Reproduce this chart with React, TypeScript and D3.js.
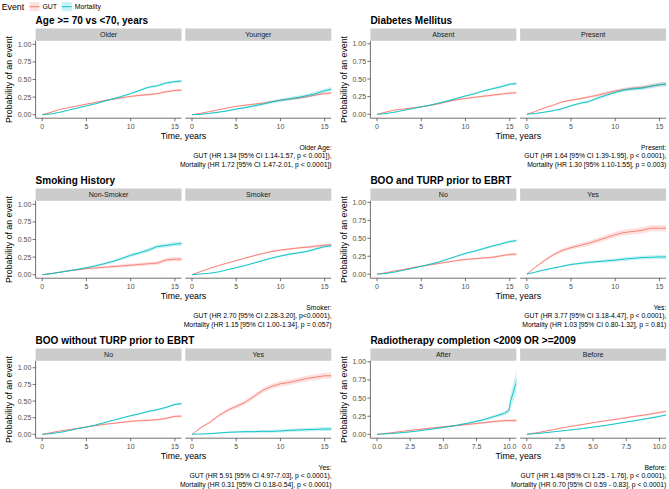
import React from 'react';
import * as d3 from 'd3';

// time grids (years)
const yearsLong = [0, 1, 2, 3, 4, 5, 6, 7, 8, 9, 10, 11, 12, 13, 14, 15, 16];
const yearsRadio = [0, 1, 2, 3, 4, 5, 6, 7, 8, 9, 9.6, 9.95, 10.05, 10.3, 10.6];

// cumulative incidence estimates
const ageOlderGut = [0, 0.035, 0.075, 0.1, 0.125, 0.15, 0.175, 0.2, 0.22, 0.24, 0.26, 0.275, 0.285, 0.3, 0.325, 0.345, 0.35];
const ageOlderMort = [0, 0.01, 0.035, 0.065, 0.095, 0.125, 0.155, 0.19, 0.225, 0.26, 0.3, 0.345, 0.39, 0.41, 0.45, 0.47, 0.48];
const ageYoungerGut = [0, 0.02, 0.045, 0.07, 0.095, 0.12, 0.135, 0.15, 0.165, 0.185, 0.205, 0.22, 0.235, 0.255, 0.28, 0.3, 0.31];
const ageYoungerMort = [0, 0.005, 0.02, 0.035, 0.055, 0.08, 0.1, 0.125, 0.15, 0.18, 0.205, 0.225, 0.245, 0.27, 0.3, 0.34, 0.37];

const diabAbsentGut = [0, 0.03, 0.06, 0.075, 0.09, 0.105, 0.125, 0.15, 0.18, 0.205, 0.225, 0.24, 0.255, 0.27, 0.285, 0.3, 0.305];
const diabAbsentMort = [0, 0.01, 0.03, 0.055, 0.08, 0.105, 0.13, 0.16, 0.19, 0.225, 0.26, 0.29, 0.33, 0.36, 0.39, 0.425, 0.44];
const diabPresentGut = [0, 0.04, 0.09, 0.13, 0.175, 0.2, 0.22, 0.245, 0.27, 0.3, 0.33, 0.35, 0.37, 0.38, 0.4, 0.42, 0.43];
const diabPresentMort = [0, 0.01, 0.03, 0.05, 0.08, 0.12, 0.155, 0.18, 0.23, 0.27, 0.31, 0.345, 0.36, 0.37, 0.395, 0.42, 0.43];

const smokeNonGut = [0, 0.015, 0.035, 0.055, 0.07, 0.085, 0.095, 0.105, 0.115, 0.125, 0.135, 0.145, 0.155, 0.165, 0.21, 0.22, 0.22];
const smokeNonMort = [0, 0.015, 0.035, 0.055, 0.075, 0.1, 0.125, 0.155, 0.19, 0.23, 0.275, 0.31, 0.35, 0.4, 0.415, 0.435, 0.445];
const smokerGut = [0, 0.045, 0.09, 0.13, 0.165, 0.2, 0.235, 0.27, 0.3, 0.33, 0.35, 0.365, 0.38, 0.39, 0.405, 0.42, 0.43];
const smokerMort = [0, 0.01, 0.02, 0.04, 0.07, 0.1, 0.13, 0.165, 0.2, 0.235, 0.265, 0.29, 0.31, 0.33, 0.365, 0.4, 0.41];

const turpNoGut = [0, 0.02, 0.045, 0.065, 0.09, 0.11, 0.13, 0.15, 0.17, 0.19, 0.205, 0.215, 0.225, 0.235, 0.255, 0.275, 0.28];
const turpNoMort = [0, 0.01, 0.03, 0.055, 0.08, 0.11, 0.14, 0.17, 0.21, 0.25, 0.29, 0.32, 0.355, 0.39, 0.42, 0.455, 0.47];
const turpYesGut = [0, 0.1, 0.19, 0.27, 0.33, 0.37, 0.4, 0.43, 0.47, 0.51, 0.55, 0.58, 0.595, 0.61, 0.64, 0.64, 0.64];
const turpYesMort = [0, 0.03, 0.06, 0.085, 0.11, 0.135, 0.15, 0.165, 0.175, 0.185, 0.195, 0.21, 0.22, 0.23, 0.235, 0.24, 0.24];

const booNoGut = [0, 0.025, 0.05, 0.07, 0.09, 0.11, 0.13, 0.15, 0.165, 0.18, 0.195, 0.205, 0.21, 0.22, 0.24, 0.27, 0.275];
const booNoMort = [0, 0.01, 0.03, 0.055, 0.085, 0.11, 0.14, 0.175, 0.21, 0.245, 0.28, 0.31, 0.345, 0.37, 0.405, 0.45, 0.465];
const booYesGut = [0, 0.1, 0.18, 0.28, 0.36, 0.42, 0.48, 0.57, 0.66, 0.72, 0.76, 0.78, 0.81, 0.84, 0.86, 0.88, 0.88];
const booYesMort = [0, 0.005, 0.01, 0.02, 0.03, 0.035, 0.04, 0.04, 0.045, 0.045, 0.05, 0.06, 0.065, 0.07, 0.075, 0.08, 0.08];

const radioAfterGut = [0, 0.02, 0.045, 0.065, 0.085, 0.105, 0.12, 0.14, 0.16, 0.18, 0.19, 0.19, 0.19, 0.19, 0.19];
const radioAfterMort = [0, 0.01, 0.025, 0.045, 0.07, 0.095, 0.125, 0.16, 0.2, 0.255, 0.29, 0.33, 0.45, 0.6, 0.78];
const radioBeforeGut = [0, 0.03, 0.065, 0.1, 0.13, 0.16, 0.19, 0.215, 0.245, 0.27, 0.29, 0.3, 0.305, 0.31, 0.32];
const radioBeforeMort = [0, 0.015, 0.035, 0.055, 0.075, 0.1, 0.125, 0.155, 0.185, 0.215, 0.235, 0.245, 0.25, 0.26, 0.27];

// 95% CI half-widths
const ciNarrow = [0, 0.003, 0.005, 0.006, 0.007, 0.008, 0.009, 0.01, 0.011, 0.012, 0.013, 0.014, 0.015, 0.016, 0.017, 0.018, 0.019];
const ciMid = [0, 0.005, 0.008, 0.01, 0.012, 0.014, 0.016, 0.018, 0.02, 0.022, 0.024, 0.025, 0.026, 0.027, 0.028, 0.03, 0.032];
const ciWide = [0, 0.012, 0.018, 0.022, 0.026, 0.029, 0.032, 0.034, 0.036, 0.038, 0.04, 0.041, 0.042, 0.043, 0.044, 0.045, 0.046];
const ciRadioNarrow = [0, 0.003, 0.005, 0.006, 0.007, 0.008, 0.009, 0.01, 0.011, 0.012, 0.013, 0.013, 0.014, 0.014, 0.015];
const ciRadioAfterGut = [0, 0.004, 0.006, 0.008, 0.009, 0.01, 0.011, 0.013, 0.015, 0.017, 0.019, 0.02, 0.02, 0.02, 0.02];
const ciRadioAfterMort = [0, 0.004, 0.006, 0.008, 0.009, 0.01, 0.012, 0.014, 0.017, 0.022, 0.027, 0.04, 0.09, 0.13, 0.16];

const ticksLong = [0, 5, 10, 15];
const ticksRadio = [0, 2.5, 5, 7.5, 10];
const yTicks = [0, 0.25, 0.5, 0.75, 1];

const eventNames = ['GUT', 'Mortality'];
const colors = ['#F8766D', '#00BFC4'];

const panels = [
  {
    title: 'Age >= 70 vs <70, years',
    facets: ['Older', 'Younger'],
    times: yearsLong, xDomain: [-0.75, 15.75], xTicks: ticksLong, fmt: d3.format('d'), yDomain: [-0.05, 1.05],
    series: [[ageOlderGut, ciNarrow, ageOlderMort, ciNarrow], [ageYoungerGut, ciNarrow, ageYoungerMort, ciMid]],
    caption: ['Older Age:', 'GUT (HR 1.34 [95% CI 1.14-1.57, p < 0.001]),', 'Mortality (HR 1.72 [95% CI 1.47-2.01, p < 0.0001])'],
  },
  {
    title: 'Diabetes Mellitus',
    facets: ['Absent', 'Present'],
    times: yearsLong, xDomain: [-0.75, 15.75], xTicks: ticksLong, fmt: d3.format('d'), yDomain: [-0.056, 1.042],
    series: [[diabAbsentGut, ciNarrow, diabAbsentMort, ciNarrow], [diabPresentGut, ciMid, diabPresentMort, ciMid]],
    caption: ['Present:', 'GUT (HR 1.64 [95% CI 1.39-1.95], p < 0.0001),', 'Mortality (HR 1.30 [95% 1.10-1.55], p = 0.003)'],
  },
  {
    title: 'Smoking History',
    facets: ['Non-Smoker', 'Smoker'],
    times: yearsLong, xDomain: [-0.75, 15.75], xTicks: ticksLong, fmt: d3.format('d'), yDomain: [-0.05, 1.05],
    series: [[smokeNonGut, ciMid, smokeNonMort, ciMid], [smokerGut, ciNarrow, smokerMort, ciNarrow]],
    caption: ['Smoker:', 'GUT (HR 2.70 [95% CI 2.28-3.20], p<0.0001),', 'Mortality (HR 1.15 [95% CI 1.00-1.34], p = 0.057)'],
  },
  {
    title: 'BOO and TURP prior to EBRT',
    facets: ['No', 'Yes'],
    times: yearsLong, xDomain: [-0.75, 15.75], xTicks: ticksLong, fmt: d3.format('d'), yDomain: [-0.056, 1.022],
    series: [[turpNoGut, ciNarrow, turpNoMort, ciNarrow], [turpYesGut, ciWide, turpYesMort, ciMid]],
    caption: ['Yes:', 'GUT (HR 3.77 [95% CI 3.18-4.47], p < 0.0001),', 'Mortality (HR 1.03 [95% CI 0.80-1.32], p = 0.81)'],
  },
  {
    title: 'BOO without TURP prior to EBRT',
    facets: ['No', 'Yes'],
    times: yearsLong, xDomain: [-0.75, 15.75], xTicks: ticksLong, fmt: d3.format('d'), yDomain: [-0.058, 1.105],
    series: [[booNoGut, ciNarrow, booNoMort, ciNarrow], [booYesGut, ciWide, booYesMort, ciMid]],
    caption: ['Yes:', 'GUT (HR 5.91 [95% CI 4.97-7.03], p < 0.0001),', 'Mortality (HR 0.31 [95% CI 0.18-0.54], p < 0.0001)'],
  },
  {
    title: 'Radiotherapy completion <2009 OR >=2009',
    facets: ['After', 'Before'],
    times: yearsRadio, xDomain: [-0.5, 10.5], xTicks: ticksRadio, fmt: d3.format('.1f'), yDomain: [-0.053, 1.014],
    series: [[radioAfterGut, ciRadioAfterGut, radioAfterMort, ciRadioAfterMort], [radioBeforeGut, ciRadioNarrow, radioBeforeMort, ciRadioNarrow]],
    caption: ['Before:', 'GUT (HR 1.48 [95% CI 1.25 - 1.76], p < 0.0001),', 'Mortality (HR 0.70 [95% CI 0.59 - 0.83], p < 0.0001)'],
  },
];

const FONT = '"Liberation Sans", Arial, Helvetica, sans-serif';
const COL_W = 334.8;
const ROW_H = 160;
const P_LEFT = 35.6;
const P_RIGHT = 331.3;
const GAP = 3.8;
const STRIP_TOP = 28.5;
const P_TOP = 40.8;
const P_BOTTOM = 118.2;

function Panel({ cfg, ox, oy, idx }: any) {
  const facetW = (P_RIGHT - P_LEFT - GAP) / 2;
  const y = d3.scaleLinear().domain(cfg.yDomain).range([P_BOTTOM, P_TOP]);
  return (
    <g transform={`translate(${ox},${oy})`}>
      <text x={P_LEFT} y={24} fontSize={10} fontWeight="bold" fill="#000">{cfg.title}</text>
      {cfg.facets.map((name: string, f: number) => {
        const left = P_LEFT + f * (facetW + GAP);
        const x = d3.scaleLinear().domain(cfg.xDomain).range([left, left + facetW]);
        const clipId = `clip-${idx}-${f}`;
        const [g, gCi, m, mCi] = cfg.series[f];
        const groups = [[g, gCi], [m, mCi]];
        return (
          <g key={f}>
            <rect x={left} y={STRIP_TOP} width={facetW} height={P_TOP - STRIP_TOP} fill="#CCCCCC" />
            <text x={left + facetW / 2} y={(STRIP_TOP + P_TOP) / 2 + 2.5} fontSize={7.1} fill="#1A1A1A" textAnchor="middle">{name}</text>
            <clipPath id={clipId}>
              <rect x={left} y={P_TOP} width={facetW} height={P_BOTTOM - P_TOP} />
            </clipPath>
            <g clipPath={`url(#${clipId})`}>
              {groups.map(([est, ci]: any, s: number) => {
                const pts = cfg.times.map((t: number, i: number) => ({ t, v: est[i], lo: est[i] - ci[i], hi: est[i] + ci[i] }));
                const band = d3.area<any>().x((d) => x(d.t)).y0((d) => y(Math.max(0, d.lo))).y1((d) => y(d.hi));
                const line = d3.line<any>().x((d) => x(d.t)).y((d) => y(d.v));
                return (
                  <g key={s}>
                    <path d={band(pts) || ''} fill={colors[s]} fillOpacity={0.22} stroke="none" />
                    <path d={line(pts) || ''} fill="none" stroke={colors[s]} strokeWidth={0.9} />
                  </g>
                );
              })}
            </g>
            {/* x axis */}
            <line x1={left} x2={left + facetW} y1={P_BOTTOM} y2={P_BOTTOM} stroke="#333" strokeWidth={0.7} />
            {cfg.xTicks.map((t: number) => (
              <g key={t}>
                <line x1={x(t)} x2={x(t)} y1={P_BOTTOM} y2={P_BOTTOM + 3} stroke="#333" strokeWidth={0.7} />
                <text x={x(t)} y={129.3} fontSize={7} fill="#4D4D4D" textAnchor="middle">{cfg.fmt(t)}</text>
              </g>
            ))}
          </g>
        );
      })}
      {/* y axis */}
      <line x1={P_LEFT} x2={P_LEFT} y1={P_TOP} y2={P_BOTTOM} stroke="#333" strokeWidth={0.7} />
      {yTicks.map((t) => (
        <g key={t}>
          <line x1={P_LEFT - 3} x2={P_LEFT} y1={y(t)} y2={y(t)} stroke="#333" strokeWidth={0.7} />
          <text x={P_LEFT - 4.3} y={y(t) + 2.5} fontSize={7} fill="#4D4D4D" textAnchor="end">{d3.format('.2f')(t)}</text>
        </g>
      ))}
      <text transform={`translate(12.3,${(P_TOP + P_BOTTOM) / 2}) rotate(-90)`} fontSize={8.8} fill="#000" textAnchor="middle">Probability of an event</text>
      <text x={(P_LEFT + P_RIGHT) / 2} y={139.3} fontSize={8.8} fill="#000" textAnchor="middle">Time, years</text>
      {cfg.caption.map((c: string, i: number) => (
        <text key={i} x={P_RIGHT + 0.3} y={149.5 + i * 8.5} fontSize={6.8} fill="#000" textAnchor="end">{c}</text>
      ))}
    </g>
  );
}

export default function App() {
  return (
    <svg width={669} height={489} style={{ position: 'absolute', left: 0, top: 0, background: '#fff' }} fontFamily={FONT}>
      <rect width={669} height={489} fill="#fff" />
      {/* legend */}
      <text x={1.7} y={9.8} fontSize={8.8} fill="#000">Event</text>
      {eventNames.map((n, i) => {
        const kx = i === 0 ? 29.5 : 61.8;
        return (
          <g key={n}>
            <rect x={kx} y={2.2} width={10} height={9} fill={colors[i]} fillOpacity={0.22} />
            <line x1={kx} x2={kx + 10} y1={6.7} y2={6.7} stroke={colors[i]} strokeWidth={0.9} />
            <text x={kx + 13} y={9.2} fontSize={6.9} fill="#000">{n}</text>
          </g>
        );
      })}
      {panels.map((p, i) => (
        <Panel key={i} cfg={p} idx={i} ox={(i % 2) * COL_W} oy={Math.floor(i / 2) * ROW_H} />
      ))}
    </svg>
  );
}
